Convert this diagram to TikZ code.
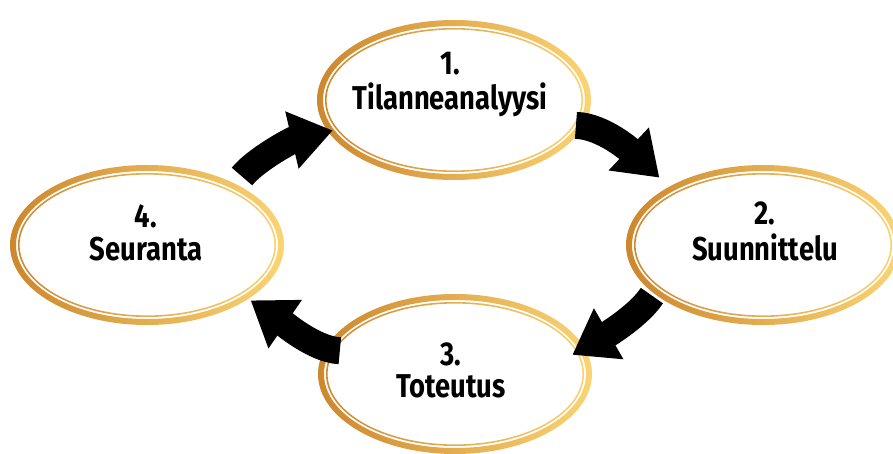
\documentclass[tikz,border=0pt]{standalone}
\usepackage{fontspec}
\newfontfamily\lblfont{Fira Sans}[FakeStretch=0.83]
\usetikzlibrary{shapes.geometric,arrows.meta}
\definecolor{golddark}{RGB}{205,135,45}
\definecolor{goldlight}{RGB}{250,212,115}
\tikzset{
  stage/.style={ellipse, minimum width=274pt, minimum height=160pt, inner sep=0pt},
  lbl/.style={anchor=base, inner sep=0pt, font=\lblfont\bfseries\fontsize{33}{29}\selectfont},
  cyc/.style={line width=27pt, -{Triangle[length=42pt,width=56pt]}},
}
\newcommand\goldring[1]{%
  \shade[even odd rule, left color=golddark, right color=goldlight]
    (#1.center) ellipse [x radius=137pt, y radius=80pt]
    (#1.center) ellipse [x radius=131pt, y radius=74pt]
    (#1.center) ellipse [x radius=129pt, y radius=72pt]
    (#1.center) ellipse [x radius=127.4pt, y radius=70.4pt];
}
\begin{document}
\begin{tikzpicture}[x=1pt,y=-1pt]
  \fill[white] (0,0) rectangle (893,454);
  \useasboundingbox (0,0) rectangle (893,454);
  % stages
  \node[stage] (e1) at (454,100) {};
  \node[stage] (e2) at (763,245) {};
  \node[stage] (e3) at (455,374) {};
  \node[stage] (e4) at (147,245) {};
  \goldring{e1}
  \goldring{e2}
  \goldring{e3}
  \goldring{e4}
  % labels
  \node[lbl] (t1) at (450,110) {\begin{tabular}[b]{@{}c@{}}1.\\Tilanneanalyysi\end{tabular}};
  \node[lbl] (t2) at (765,260) {\begin{tabular}[b]{@{}c@{}}2.\\Suunnittelu\end{tabular}};
  \node[lbl] (t3) at (451,397) {\begin{tabular}[b]{@{}c@{}}3.\\Toteutus\end{tabular}};
  \node[lbl] (t4) at (146,260) {\begin{tabular}[b]{@{}c@{}}4.\\Seuranta\end{tabular}};
  % cycle arrows
  \draw[cyc] ([shift={(-7,-2)}]e1.-12) .. controls (603,126) and (632,152) .. ([shift={(-6,-11)}]e2.150);
  \draw[cyc] ([shift={(-2,2)}]e2.-156) .. controls (640,314) and (610,333) .. ([shift={(-14,4)}]e3.10);
  \draw[cyc] ([shift={(15,2)}]e3.169) .. controls (315,350) and (282,322) .. ([shift={(6,-1)}]e4.-30);
  \draw[cyc] ([shift={(9,-6)}]e4.36) .. controls (255,160) and (292,140) .. ([shift={(5,-1)}]e1.-166);
\end{tikzpicture}
\end{document}
